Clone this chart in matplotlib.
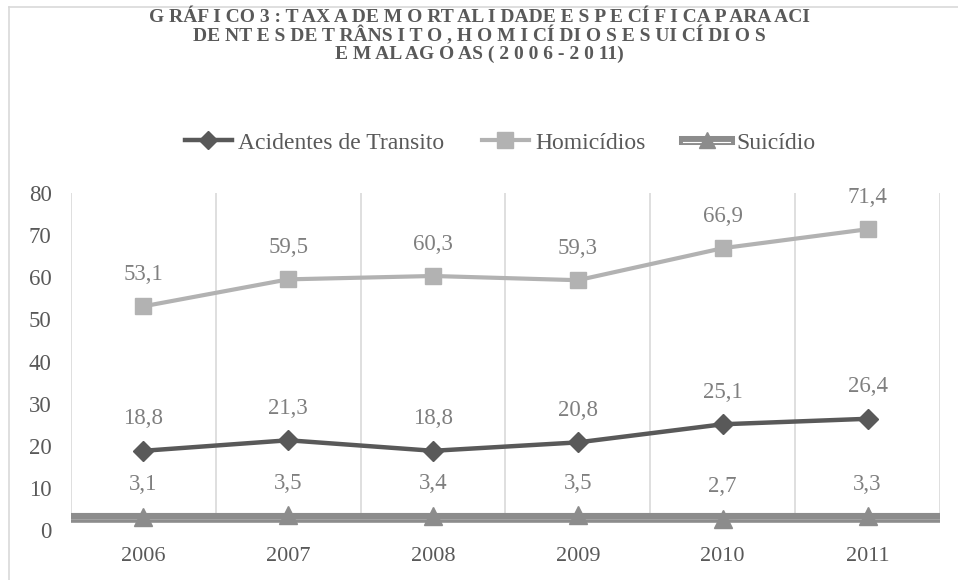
import matplotlib
matplotlib.use('Agg')
import matplotlib.pyplot as plt
import matplotlib.patheffects as pe
from matplotlib.lines import Line2D
from matplotlib.legend_handler import HandlerTuple

plt.rcParams['font.family'] = ['Liberation Serif', 'DejaVu Serif']

anos = ['2006', '2007', '2008', '2009', '2010', '2011']
acidentes = [18.8, 21.3, 18.8, 20.8, 25.1, 26.4]
homicidios = [53.1, 59.5, 60.3, 59.3, 66.9, 71.4]
suicidio = [3.1, 3.5, 3.4, 3.5, 2.7, 3.3]
series_nomes = ['Acidentes de Transito', 'Homicídios', 'Suicídio']

titulo = ['G RÁF I CO 3 : T AX A DE M O RT AL I DADE E S P E CÍ F I CA P ARA ACI',
          'DE NT E S DE T RÂNS I T O , H O M I CÍ DI O S E S UI CÍ DI O S',
          'E M AL AG O AS ( 2 0 0 6 - 2 0 11)']

c_acid = '#595959'
c_homi = '#b2b2b2'
c_suic = '#8c8c8c'
c_txt = '#595959'
c_lab = '#7f7f7f'

W, H = 958, 580
fig = plt.figure(figsize=(W / 100, H / 100), dpi=100)
ax = fig.add_axes([71 / W, 1 - 530 / H, (940 - 71) / W, (530 - 193) / H])

x = list(range(len(anos)))
ax.set_xlim(-0.5, len(anos) - 0.5)
ax.set_ylim(0, 80)

# vertical gridlines between categories
ax.vlines([i - 0.5 for i in range(len(anos) + 1)], 3.5, 80,
          color='#d9d9d9', lw=1.2, zorder=1)

# double line at the bottom (axis)
ax.axhline(3.44, color=c_suic, lw=4.4, zorder=2)
ax.axhline(2.1, color=c_suic, lw=2.6, zorder=2)

ax.plot(x, homicidios, color=c_homi, lw=3, marker='s', ms=12, zorder=4)
ax.plot(x, acidentes, color=c_acid, lw=3.2, marker='D', ms=10, zorder=4)
ax.plot(x, suicidio, color=c_suic, lw=1, zorder=3)
ax.plot(x, suicidio, color=c_suic, lw=0, marker='^', ms=13, zorder=5)

for serie in (homicidios, acidentes, suicidio):
    for xi, v in zip(x, serie):
        ax.annotate(f'{v:.1f}'.replace('.', ','), (xi, v),
                    xytext=(0, 23), textcoords='offset points',
                    ha='center', va='center', fontsize=16.5, color=c_lab,
                    annotation_clip=False)

ax.set_xticks(x)
ax.set_xticklabels(anos)
ax.set_yticks(range(0, 81, 10))
ax.tick_params(axis='x', length=0, pad=12, labelsize=16, labelcolor=c_txt)
ax.tick_params(axis='y', length=0, pad=14, labelsize=16.5, labelcolor=c_txt)
for s in ax.spines.values():
    s.set_visible(False)

# legend
h_acid = Line2D([], [], color=c_acid, lw=3.2, marker='D', ms=9)
h_homi = Line2D([], [], color=c_homi, lw=3, marker='s', ms=11)
h_suic_l = Line2D([], [], color=c_suic, lw=6.5)
h_suic_l.set_path_effects([
    pe.Normal(),
    pe.Stroke(linewidth=0.8, foreground='white', offset=(0, -1.1))])
h_suic_m = Line2D([], [], color=c_suic, lw=0, marker='^', ms=12)
fig.legend([h_acid, h_homi, (h_suic_l, h_suic_m)], series_nomes,
           handler_map={tuple: HandlerTuple(ndivide=1)},
           loc='center', bbox_to_anchor=(500 / W, 1 - 143 / H), ncol=3,
           frameon=False, fontsize=17, labelcolor=c_txt,
           handlelength=2.0, handletextpad=0.25, columnspacing=1.6)

# title
for i, linha in enumerate(titulo):
    fig.text(0.5, 1 - (17 + 18.5 * i) / H, linha, ha='center', va='center',
             fontsize=14, fontweight='bold', color=c_txt)

# chart border
fig.add_artist(Line2D([9 / W, 9 / W], [0, 1 - 7 / H], color='#d9d9d9',
                      lw=1.2, transform=fig.transFigure))
fig.add_artist(Line2D([9 / W, 1], [1 - 7 / H, 1 - 7 / H], color='#d9d9d9',
                      lw=1.2, transform=fig.transFigure))

fig.savefig('out.png', dpi=100)
